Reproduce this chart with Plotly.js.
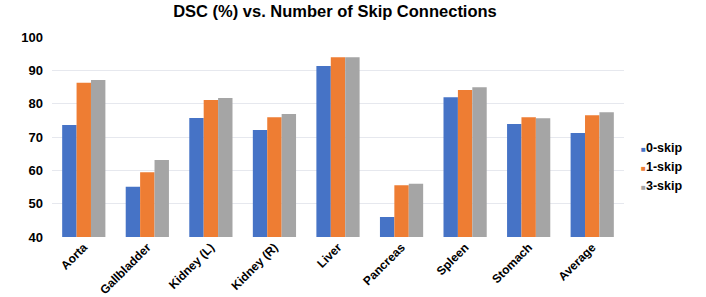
<!DOCTYPE html>
<html>
<head>
<meta charset="utf-8">
<script src="https://cdn.plot.ly/plotly-3.0.1.min.js"></script>
<style>html,body{margin:0;padding:0;background:#fff;}#chart{width:706px;height:297px;}</style>
</head>
<body>
<div id="chart"></div>
<script>
const categories = ["Aorta", "Gallbladder", "Kidney (L)", "Kidney (R)", "Liver", "Pancreas", "Spleen", "Stomach", "Average"];
const skip0 = [73.6, 55.1, 75.7, 72.1, 91.3, 46.0, 81.9, 73.9, 71.2];
const skip1 = [86.3, 59.4, 81.1, 75.9, 93.9, 55.5, 84.1, 75.9, 76.5];
const skip3 = [87.1, 63.1, 81.7, 76.9, 93.9, 56.0, 84.9, 75.6, 77.4];
const seriesNames = ["0-skip", "1-skip", "3-skip"];
const colors = ["#4673C6", "#EE7D33", "#A5A5A5"];
const yTicks = [40, 50, 60, 70, 80, 90, 100];

const series = [skip0, skip1, skip3];
const traces = series.map((vals, i) => ({
  type: "bar",
  name: seriesNames[i],
  legendgroup: seriesNames[i],
  x: categories,
  y: vals,
  marker: {color: colors[i]},
  showlegend: false
}));
// legend entries: small coloured square drawn as part of the legend text
series.forEach((vals, i) => {
  traces.push({
    type: "scatter",
    mode: "markers",
    x: [categories[0]],
    y: [null],
    legendgroup: seriesNames[i],
    name: "<span style='color:" + colors[i] + ";font-size:8px'>■</span><b>" + seriesNames[i] + "</b>",
    marker: {color: "rgba(0,0,0,0)", size: 0, line: {width: 0}},
    showlegend: true
  });
});

const layout = {
  width: 706, height: 297,
  margin: {l: 52, r: 82, t: 37, b: 60, autoexpand: false},
  paper_bgcolor: "#fff", plot_bgcolor: "#fff",
  font: {family: "Liberation Sans, Arial, sans-serif", color: "#000"},
  title: {text: "<b>DSC (%) vs. Number of Skip Connections</b>", x: 0.4745, xanchor: "center", y: 0.963, yanchor: "middle", font: {size: 16.5, color: "#000"}},
  barmode: "group",
  bargap: 0.32,
  bargroupgap: 0,
  xaxis: {
    tickangle: -45,
    tickfont: {size: 12, weight: "bold"},
    showgrid: false, showline: false, ticks: "", zeroline: false
  },
  yaxis: {
    range: [40, 100],
    tickvals: yTicks,
    ticktext: yTicks.map(v => "<b>" + v + "</b>"),
    tickfont: {size: 13},
    showgrid: true, gridcolor: "#e6e8ee", gridwidth: 1,
    showline: false, zeroline: false, ticks: "", ticklen: 0, ticklabelstandoff: 8
  },
  legend: {
    x: 0.96, xanchor: "left", y: 0.355, yanchor: "middle",
    bgcolor: "rgba(0,0,0,0)",
    font: {size: 12.5, color: "#000"},
    itemwidth: 30, tracegroupgap: 0
  },
  showlegend: true
};

Plotly.newPlot("chart", traces, layout, {displayModeBar: false, staticPlot: true});
</script>
</body>
</html>
